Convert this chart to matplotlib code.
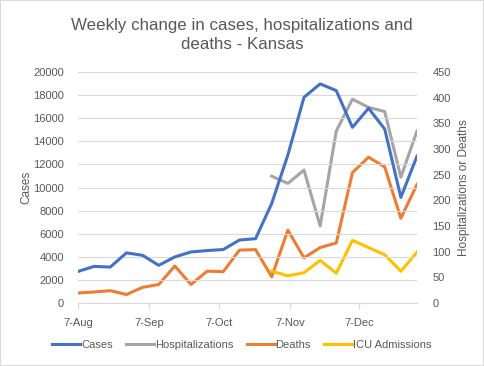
import matplotlib
matplotlib.use("Agg")
import matplotlib.pyplot as plt
import matplotlib.dates as mdates
import matplotlib.ticker as mticker
import numpy as np
import pandas as pd

# weekly data, Kansas
weeks = ["2020-08-07", "2020-08-14", "2020-08-21", "2020-08-28", "2020-09-04",
         "2020-09-11", "2020-09-18", "2020-09-25", "2020-10-02", "2020-10-09",
         "2020-10-16", "2020-10-23", "2020-10-30", "2020-11-06", "2020-11-13",
         "2020-11-20", "2020-11-27", "2020-12-04", "2020-12-11", "2020-12-18",
         "2020-12-25", "2021-01-01"]
cases = [2730, 3170, 3110, 4340, 4130, 3260, 3990, 4420, 4540, 4630, 5450,
         5570, 8620, 12810, 17810, 18970, 18390, 15210, 16860, 15060, 9140, 12720]
hospitalizations = [np.nan] * 12 + [247, 233, 259, 150, 335, 397, 381, 373, 245, 335]
deaths = [19.5, 21.5, 24, 16.5, 30.5, 36, 72, 36, 62, 61, 103,
          104, 51, 142, 88, 108, 117, 254, 284, 265, 165, 231]
icu = [np.nan] * 12 + [62, 53, 59, 83, 58, 122, 108, 94, 62, 99]

dates = pd.to_datetime(weeks)
txt = "#595959"
fs = 8
plt.rcParams["font.family"] = ["Liberation Sans", "DejaVu Sans"]

fig = plt.figure(figsize=(4.84, 3.66), dpi=100)
ax = fig.add_axes([78 / 484, 1 - 303 / 366, (417 - 78) / 484, (303 - 72) / 366])
ax2 = ax.twinx()

l1, = ax.plot(dates, cases, color="#4472C4", lw=2.2, label="Cases")
l2, = ax2.plot(dates, hospitalizations, color="#A5A5A5", lw=2.2, label="Hospitalizations")
l3, = ax2.plot(dates, deaths, color="#ED7D31", lw=2.2, label="Deaths")
l4, = ax2.plot(dates, icu, color="#FFC000", lw=2.2, label="ICU Admissions")
ax.set_zorder(ax2.get_zorder() + 1)
ax.patch.set_visible(False)

ax.set_xlim(dates[0], dates[-1])
ax.set_ylim(0, 20000)
ax.set_yticks(range(0, 20001, 2000))
ax2.set_ylim(0, 450)
ax2.set_yticks(range(0, 451, 50))

ax.xaxis.set_major_locator(mdates.MonthLocator(bymonthday=7))
ax.xaxis.set_major_formatter(mticker.FuncFormatter(
    lambda v, p: f"{mdates.num2date(v).day}-{mdates.num2date(v):%b}"))

ax.grid(axis="y", color="#D9D9D9", lw=0.8)
ax.set_axisbelow(True)
for a in (ax, ax2):
    for s in a.spines.values():
        s.set_visible(False)
ax.spines["bottom"].set_visible(True)
ax.spines["bottom"].set_color("#D9D9D9")
ax.tick_params(axis="x", colors="#D9D9D9", labelcolor=txt, labelsize=fs,
               length=4, width=0.8, pad=7)
ax.tick_params(axis="y", length=0, labelcolor=txt, labelsize=fs, pad=10)
ax2.tick_params(axis="y", length=0, labelcolor=txt, labelsize=fs, pad=11)

ax.set_ylabel("Cases", color=txt, fontsize=8.5)
ax.yaxis.set_label_coords(-0.135, 0.5)
ax2.set_ylabel("Hospitalizations or Deaths", color=txt, fontsize=8.5, rotation=90)
ax2.yaxis.set_label_coords(1.12, 0.5)

fig.text(0.5, 1 - 35 / 366, "Weekly change in cases, hospitalizations and\ndeaths - Kansas",
         ha="center", va="center", fontsize=12.2, color=txt, linespacing=1.3)

fig.legend(handles=[l1, l2, l3, l4], loc="center", bbox_to_anchor=(0.5, 1 - 345 / 366),
           ncol=4, frameon=False, fontsize=fs, labelcolor=txt, handlelength=2.5,
           handletextpad=0.1, columnspacing=1.2)

fig.patches.append(plt.Rectangle((0, 0), 1, 1, transform=fig.transFigure, fill=False,
                                 edgecolor="#D9D9D9", lw=1.5))

fig.savefig("out.png", dpi=100)
